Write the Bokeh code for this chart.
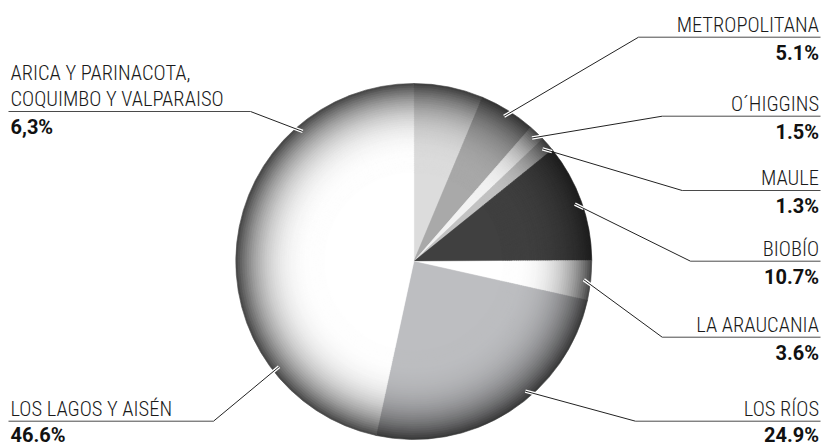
import numpy as np
from bokeh.plotting import figure
from bokeh.models import Range1d, ColumnDataSource
from bokeh.core.properties import value
from bokeh.embed import file_html
from bokeh.resources import INLINE

# ---------------- data ----------------
label_lines = [
    ["ARICA Y PARINACOTA,", "COQUIMBO Y VALPARAISO"],
    ["METROPOLITANA"],
    ["O´HIGGINS"],
    ["MAULE"],
    ["BIOBÍO"],
    ["LA ARAUCANIA"],
    ["LOS RÍOS"],
    ["LOS LAGOS Y AISÉN"],
]
shares = [6.3, 5.1, 1.5, 1.3, 10.7, 3.6, 24.9, 46.6]
share_text = ["6,3%", "5.1%", "1.5%", "1.3%", "10.7%", "3.6%", "24.9%", "46.6%"]

# ---------------- style / layout ----------------
base_colors = ["#dcdcdc", "#a9a9a9", "#f2f2f2", "#c2c2c2",
               "#404040", "#ffffff", "#bdbec1", "#ffffff"]
side = ["left", "right", "right", "right", "right", "right", "right", "left"]
under_y = [111, 36.7, 115.7, 190, 260.7, 336.7, 420.7, 420.7]      # image px
elbow_x = [250, 638, 661.7, 681.7, 690, 661.7, 635, 213]
anchor_override = [319.5, None, None, None, None, None, 139.3, 232.0]  # deg clockwise from top

W, H = 822, 447
CX, CY, R = 413.3, 261.0, 178.0
ANCHOR_R = 171.0
FONT = "Roboto Condensed Light, Roboto Condensed"
BFONT = "Roboto"
TEXT_SHIFT = 7.0
MAX_BASE = 441.3


def Y(y):
    return H - y


p = figure(width=W, height=H, output_backend="svg", toolbar_location=None,
           x_range=Range1d(0, W), y_range=Range1d(0, H),
           x_axis_type=None, y_axis_type=None, min_border=0)
p.outline_line_color = None
p.grid.visible = False
p.background_fill_color = "white"
p.border_fill_color = "white"

# ---------------- pie with radial shading ----------------
tot = sum(shares)
cum = np.concatenate([[0], np.cumsum(shares)]) / tot * 360.0
theta1, theta2 = cum[:-1], cum[1:]


def hex2rgb(h):
    h = h.lstrip("#")
    return np.array([int(h[i:i + 2], 16) for i in (0, 2, 4)], dtype=float)


dark = np.array([20, 20, 20], dtype=float)
N = 40
ts = np.linspace(1.0, 0.5, N + 1)
xs, ys, rs, sa, ea, cols = [], [], [], [], [], []
for k in range(N + 1):
    t_out = ts[k]
    t_mid = t_out - 0.25 / N if k < N else 0.0
    u = max(0.0, (t_mid - 0.5) / 0.5)
    f = 1 - 0.8 * u ** 3
    for i in range(len(shares)):
        c = hex2rgb(base_colors[i]) * f + dark * (1 - f)
        c = np.clip(c, 0, 255).astype(int)
        xs.append(CX)
        ys.append(Y(CY))
        rs.append(R * t_out)
        sa.append(90 - theta2[i])
        ea.append(90 - theta1[i])
        cols.append("#%02x%02x%02x" % tuple(c))

src = ColumnDataSource(dict(x=xs, y=ys, r=rs, sa=sa, ea=ea, c=cols))
p.wedge(x="x", y="y", radius="r", start_angle="sa", end_angle="ea",
        start_angle_units="deg", end_angle_units="deg",
        fill_color="c", line_color="c", line_width=0.6, source=src)

# ---------------- leaders ----------------
hx0, hy0, hx1, hy1 = [], [], [], []
lx0, ly0, lx1, ly1 = [], [], [], []
ux0, uy0, ux1, uy1 = [], [], [], []
for i in range(len(shares)):
    ang = anchor_override[i] if anchor_override[i] is not None else (theta1[i] + theta2[i]) / 2
    a = np.radians(ang)
    ax = CX + ANCHOR_R * np.sin(a)
    ay = CY - ANCHOR_R * np.cos(a)
    ex, ey = elbow_x[i], under_y[i]
    d = np.hypot(ex - ax, ey - ay)
    hx = ax + (ex - ax) / d * 10
    hy = ay + (ey - ay) / d * 10
    hx0.append(ax); hy0.append(Y(ay)); hx1.append(hx); hy1.append(Y(hy))
    lx0.append(ax); ly0.append(Y(ay)); lx1.append(ex); ly1.append(Y(ey))
    if side[i] == "right":
        ux0.append(ex); ux1.append(820)
    else:
        ux0.append(8); ux1.append(ex)
    uy0.append(Y(ey)); uy1.append(Y(ey))

p.segment(x0=hx0, y0=hy0, x1=hx1, y1=hy1, line_color="white", line_width=3.5)
p.segment(x0=lx0, y0=ly0, x1=lx1, y1=ly1, line_color="#222222", line_width=1)
p.segment(x0=ux0, y0=uy0, x1=ux1, y1=uy1, line_color="#4a4a4a", line_width=1)

# ---------------- texts ----------------
for i in range(len(shares)):
    right = side[i] == "right"
    tx = 818.5 if right else 10
    align = "right" if right else "left"
    lines = label_lines[i]
    nl = len(lines)
    for j, ln in enumerate(lines):
        by = under_y[i] - 5.3 - (nl - 1 - j) * 26 - TEXT_SHIFT
        p.text(x=[tx], y=[Y(by)], text=[ln], text_align=align,
               text_baseline="alphabetic", text_font=value(FONT),
               text_font_size="20.5px", text_color="#1a1a1a")
    pb = min(under_y[i] + 22.6, MAX_BASE) - TEXT_SHIFT
    p.text(x=[tx], y=[Y(pb)], text=[share_text[i]], text_align=align,
           text_baseline="alphabetic", text_font=value(BFONT),
           text_font_size="20px", text_font_style="bold", text_color="#111111")

open("out.html", "w").write(file_html(p, INLINE))
